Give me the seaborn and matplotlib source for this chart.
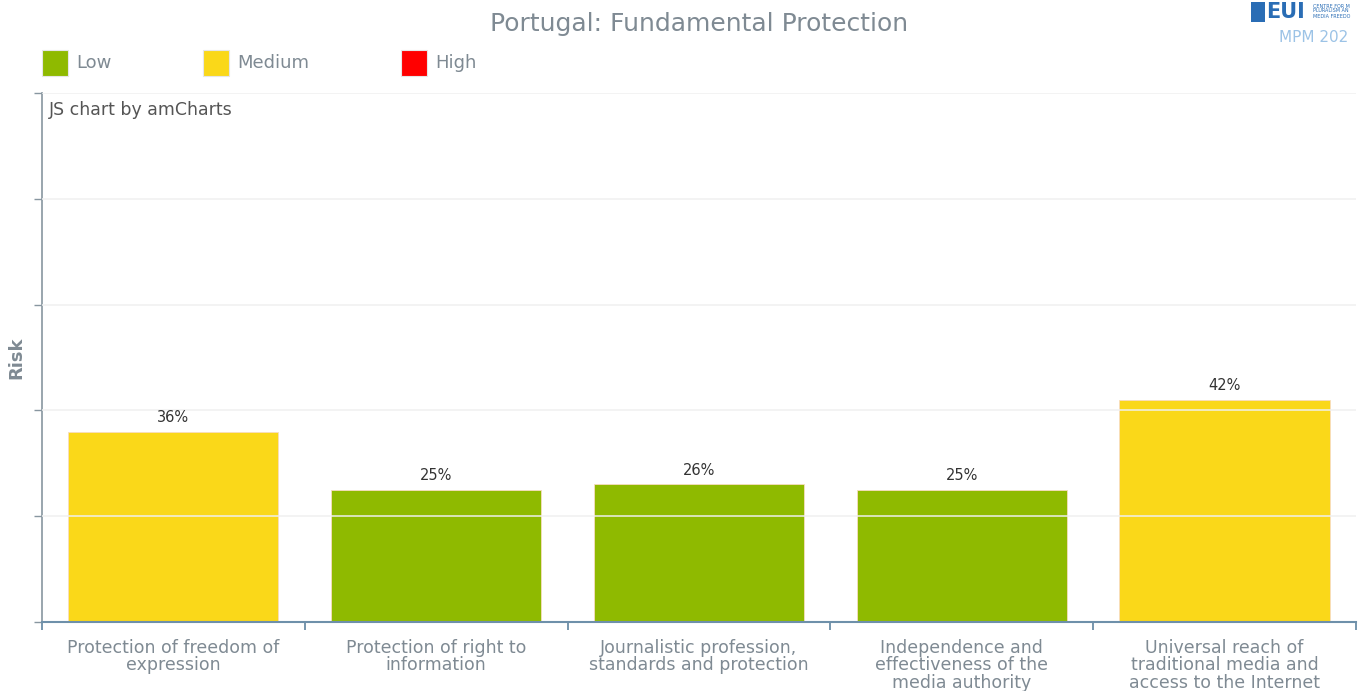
import matplotlib
matplotlib.use("Agg")
import matplotlib.pyplot as plt
import matplotlib.patches as mpatches
from matplotlib.ticker import FixedLocator
import seaborn as sns
import pandas as pd

# ---- data ----
categories = [
    "Protection of freedom of\nexpression",
    "Protection of right to\ninformation",
    "Journalistic profession,\nstandards and protection",
    "Independence and\neffectiveness of the\nmedia authority",
    "Universal reach of\ntraditional media and\naccess to the Internet",
]
values = [36, 25, 26, 25, 42]
levels = ["Medium", "Low", "Low", "Low", "Medium"]
legend_labels = ["Low", "Medium", "High"]
palette = {"Low": "#8fba00", "Medium": "#fad819", "High": "#ff0000"}

df = pd.DataFrame({"category": categories, "value": values, "level": levels})

sns.set_theme(style="white")
plt.rcParams["font.family"] = ["DejaVu Sans"]

fig = plt.figure(figsize=(13.58, 6.91), dpi=100)
ax = fig.add_axes([0.0309, 0.0999, 0.9676, 0.7655])

sns.barplot(data=df, x="category", y="value", hue="level", palette=palette,
            dodge=False, legend=False, width=0.8, ax=ax, saturation=1,
            edgecolor="#f8dcc0", linewidth=0.6, zorder=2)

ax.set_ylim(0, 100)
ax.set_xlim(-0.5, len(categories) - 0.5)

# gridlines drawn over bars
for yv in [20, 40, 60, 80, 100]:
    ax.axhline(yv, color="#f0f0f0", lw=1.2, zorder=3, alpha=0.9)

# value labels
for i, v in enumerate(values):
    ax.text(i, v + 1.2, f"{v}%", ha="center", va="bottom", fontsize=10.5,
            color="#333333", zorder=4)

# axes styling
ax.set_yticks([0, 20, 40, 60, 80, 100])
ax.set_yticklabels([])
ax.tick_params(axis="y", which="major", length=6, width=1, color="#8896a0",
               direction="out", left=True)
ax.set_xticks(range(len(categories)))
ax.set_xticklabels(categories, fontsize=12.5, color="#7f8a93", linespacing=0.98)
ax.tick_params(axis="x", which="major", length=0, pad=12)
ax.xaxis.set_minor_locator(FixedLocator([i - 0.5 for i in range(len(categories) + 1)]))
ax.tick_params(axis="x", which="minor", length=6, width=1.2, color="#5f84a0",
               direction="out", bottom=True)
for s in ["top", "right"]:
    ax.spines[s].set_visible(False)
ax.spines["left"].set_color("#8896a0")
ax.spines["left"].set_linewidth(1.2)
ax.spines["bottom"].set_color("#6e90aa")
ax.spines["bottom"].set_linewidth(1.5)
ax.set_xlabel("")
ax.set_ylabel("Risk", fontsize=13, fontweight="bold", color="#7f8a93")
ax.yaxis.set_label_coords(-0.013, 0.5)

ax.text(0.005, 0.985, "JS chart by amCharts", transform=ax.transAxes,
        ha="left", va="top", fontsize=12.5, color="#555555")

# title
fig.text(0.5145, 0.965, "Portugal: Fundamental Protection", ha="center", va="center",
         fontsize=18, color="#7f8a93")

# legend
xs = [42, 203, 401]
for lab, x0 in zip(legend_labels, xs):
    fig.patches.append(mpatches.Rectangle((x0 / 1358, 1 - 76 / 691), 26 / 1358, 26 / 691,
                                          transform=fig.transFigure,
                                          facecolor=palette[lab], edgecolor="#e6e6e6",
                                          lw=0.8))
    fig.text((x0 + 34) / 1358, 1 - 63 / 691, lab, ha="left", va="center",
             fontsize=13, color="#7f8a93")

# EUI logo approximation
fig.patches.append(mpatches.Rectangle((1251 / 1358, 1 - 22 / 691), 14 / 1358, 20 / 691,
                                      transform=fig.transFigure, facecolor="#2a6db5",
                                      edgecolor="none"))
fig.text(1266 / 1358, 1 - 12 / 691, "EUI", ha="left", va="center", fontsize=15,
         fontweight="bold", color="#2a6db5")
fig.text(1313 / 1358, 1 - 11 / 691, "CENTRE FOR M\nPLURALISM AN\nMEDIA FREEDO",
         ha="left", va="center", fontsize=3.5, color="#2a6db5", linespacing=1.0)
fig.text(1279 / 1358, 1 - 37 / 691, "MPM 202", ha="left", va="center", fontsize=11,
         color="#9cc3e6")

fig.savefig("out.png", dpi=100)
